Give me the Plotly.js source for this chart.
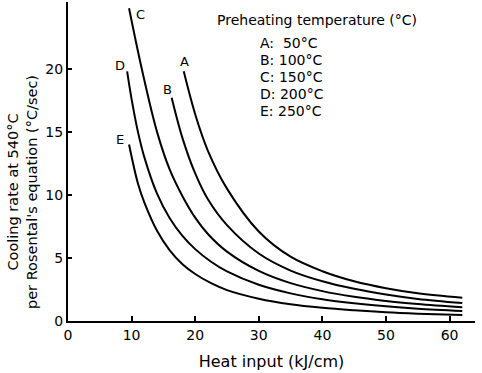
<!DOCTYPE html>
<html>
<head>
<meta charset="utf-8">
<script src="https://cdn.plot.ly/plotly-3.0.1.min.js"></script>
<style>html,body{margin:0;padding:0;background:#fff;}#chart{width:482px;height:373px;}</style>
</head>
<body>
<div id="chart"></div>
<script>
// Heat input (kJ/cm) and cooling rate (°C/sec)
const A_x = [18.2, 20, 22, 25, 30, 35, 40, 45, 50, 55, 62];
const A_y = [19.8, 16.4, 13.5, 10.5, 7.1, 5.1, 3.95, 3.15, 2.6, 2.2, 1.85];
const B_x = [16.3, 18, 20, 22, 25, 30, 35, 40, 45, 50, 55, 62];
const B_y = [17.7, 14.5, 11.7, 9.65, 7.6, 5.35, 4.0, 3.15, 2.55, 2.1, 1.75, 1.42];
const C_x = [9.6, 11.6, 14, 16, 18, 20, 22, 25, 30, 35, 40, 45, 50, 55, 62];
const C_y = [24.8, 20, 15.0, 12.0, 9.9, 8.2, 6.9, 5.5, 3.97, 3.0, 2.37, 1.92, 1.59, 1.35, 1.09];
const D_x = [9.3, 10, 11, 12, 14, 16, 18, 20, 22.5, 25, 30, 35, 40, 45, 50, 55, 62];
const D_y = [19.8, 17.6, 15.0, 13.0, 10.1, 8.15, 6.75, 5.7, 4.7, 3.93, 2.87, 2.19, 1.72, 1.4, 1.16, 0.98, 0.8];
const E_x = [9.6, 11, 12, 14, 16, 18, 20, 22.5, 25, 30, 35, 40, 45, 50, 55, 62];
const E_y = [14.0, 10.9, 9.4, 7.15, 5.6, 4.5, 3.73, 3.0, 2.45, 1.77, 1.33, 1.05, 0.85, 0.69, 0.58, 0.47];

const curveNames = ["A", "B", "C", "D", "E"];
const curveX = [A_x, B_x, C_x, D_x, E_x];
const curveY = [A_y, B_y, C_y, D_y, E_y];
const preheatLabels = ["A:  50°C", "B: 100°C", "C: 150°C", "D: 200°C", "E: 250°C"];
const xTicks = [0, 10, 20, 30, 40, 50, 60];
const yTicks = [0, 5, 10, 15, 20];

const FONT = "DejaVu Sans, Verdana, sans-serif";

const traces = curveNames.map((n, i) => ({
  x: curveX[i], y: curveY[i], name: n, type: "scatter", mode: "lines",
  line: {color: "#000", width: 2, shape: "spline", smoothing: 1}
}));

const labelPos = {A: [18.3, 20.6], B: [15.6, 18.4], C: [11.4, 24.3], D: [8.1, 20.3], E: [8.2, 14.4]};
const annotations = curveNames.map(n => ({
  x: labelPos[n][0], y: labelPos[n][1], xref: "x", yref: "y", text: n, showarrow: false,
  font: {size: 13, color: "#000", family: FONT}
}));
annotations.push({
  x: 215, y: 20, text: "Preheating temperature (°C)",
  showarrow: false, xanchor: "left", yanchor: "middle", font: {size: 14, color: "#000", family: FONT}
});
preheatLabels.forEach((t, i) => annotations.push({
  x: 258, y: 43 + 17 * i, text: t, showarrow: false, xanchor: "left", yanchor: "middle",
  font: {size: 14, color: "#000", family: FONT}
}));
annotations.push({
  x: 22, y: 192, text: "Cooling rate at 540°C<br>per Rosental's equation (°C/sec)",
  showarrow: false, textangle: -90, xanchor: "center", yanchor: "middle",
  font: {size: 14.5, color: "#000", family: FONT}
});

// convert pixel-placed annotations to paper coordinates
const W = 482, H = 373, ML = 68, MR = 7, MT = 2, MB = 52;
annotations.forEach(a => {
  if (a.xref === "x") return;
  a.xref = "paper"; a.yref = "paper";
  a.x = (a.x - ML) / (W - ML - MR);
  a.y = 1 - (a.y - MT) / (H - MT - MB);
});

const layout = {
  width: W, height: H,
  margin: {l: ML, r: MR, t: MT, b: MB},
  paper_bgcolor: "#fff", plot_bgcolor: "#fff",
  showlegend: false,
  font: {family: FONT, color: "#000", size: 14},
  xaxis: {
    range: [0, 64], tickvals: xTicks, ticktext: xTicks.map(String),
    showgrid: false, zeroline: false, showline: true, linecolor: "#000", linewidth: 2,
    ticks: "inside", ticklen: 5, tickwidth: 2, tickcolor: "#000",
    tickfont: {size: 14, family: FONT},
    title: {text: "Heat input (kJ/cm)", font: {size: 16, family: FONT}, standoff: 14}
  },
  yaxis: {
    range: [0, 25.3], tickvals: yTicks, ticktext: yTicks.map(String),
    showgrid: false, zeroline: false, showline: true, linecolor: "#000", linewidth: 2,
    ticks: "inside", ticklen: 4, tickwidth: 2, tickcolor: "#000",
    tickfont: {size: 14, family: FONT}
  },
  annotations: annotations
};

Plotly.newPlot("chart", traces, layout, {staticPlot: true, displayModeBar: false});
</script>
</body>
</html>
